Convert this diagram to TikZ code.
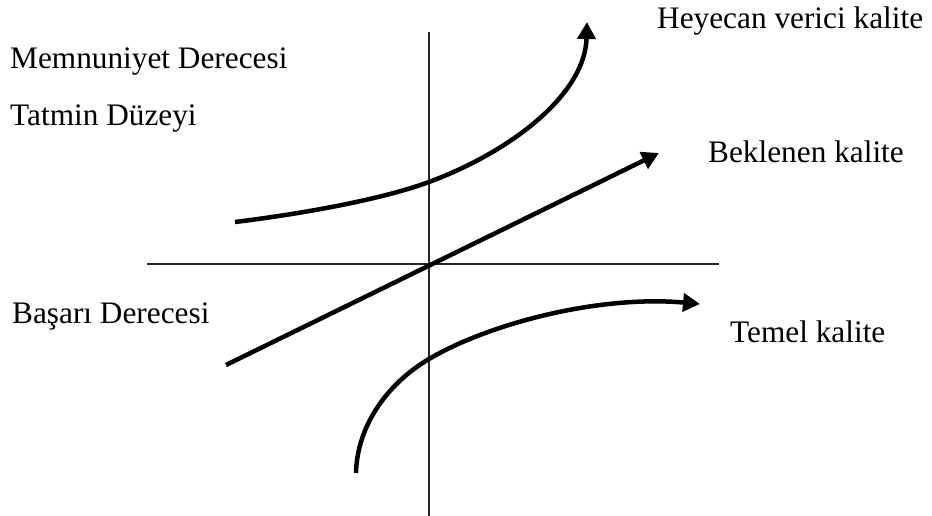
\documentclass[tikz,border=0pt]{standalone}
\usepackage{fontspec}
\setmainfont{Liberation Serif}
\usetikzlibrary{arrows.meta}
\tikzset{
  lbl/.style={anchor=base west, inner sep=0pt, font=\fontsize{31.3}{36}\selectfont},
  axis/.style={line width=1.5pt, black!85},
  curve/.style={line width=4.5pt, -{Triangle[length=17pt,width=18pt]}},
}
\begin{document}
\begin{tikzpicture}[x=1pt,y=-1pt]
\useasboundingbox (0,0) rectangle (932,516);
% axes
\coordinate (vtop) at (429,32);
\coordinate (vbot) at (429,516);
\coordinate (hl) at (147,264);
\coordinate (hr) at (719,264);
\draw[axis] (vtop) -- (vbot);
\draw[axis] (hl) -- (hr);
% labels
\node[lbl] (hey) at (657,29) {Heyecan verici kalite};
\node[lbl] (mem) at (10,69) {Memnuniyet Derecesi};
\node[lbl] (tat) at (10,126) {Tatmin Düzeyi};
\node[lbl] (bek) at (708,163) {Beklenen kalite};
\node[lbl] (bas) at (12,323) {Başarı Derecesi};
\node[lbl] (tem) at (730,342) {Temel kalite};
% curves
\coordinate (hs) at (235,222);
\coordinate (hm) at (429,182);
\coordinate (he) at (587,22);
\draw[curve] (hs) .. controls (300,214) and (380,200) .. (hm)
                  .. controls (510,152) and (585,95) .. (he);
\coordinate (bs) at (226,365);
\coordinate (be) at (659,153);
\draw[curve] (bs) -- (be);
\coordinate (ts) at (356,473);
\coordinate (tm) at (429,359);
\coordinate (te) at (700,304);
\draw[curve] (ts) .. controls (357,428) and (385,385) .. (tm)
                  .. controls (490,323) and (600,295) .. (te);
\end{tikzpicture}
\end{document}
